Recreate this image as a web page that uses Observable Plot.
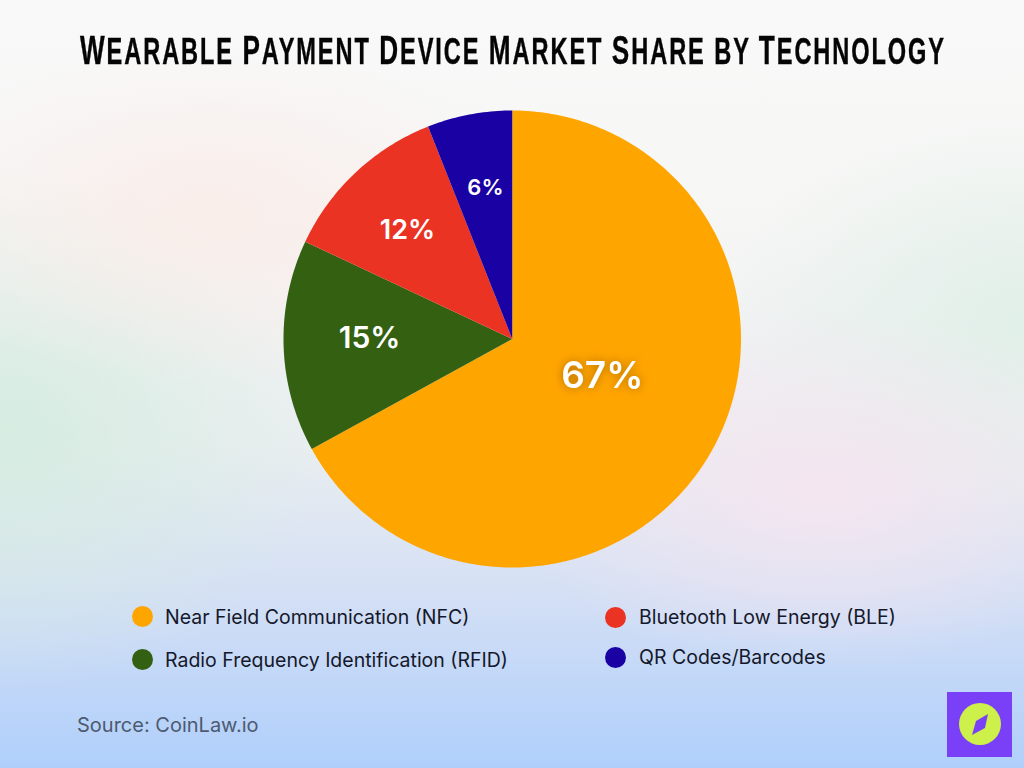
<!DOCTYPE html>
<html><head><meta charset="utf-8">
<script src="https://cdn.jsdelivr.net/npm/d3@7"></script>
<script src="https://cdn.jsdelivr.net/npm/@observablehq/plot@0.6"></script>
<style>
html,body{margin:0;padding:0;}
#page{position:relative;width:1024px;height:768px;overflow:hidden;
 background:
  radial-gradient(ellipse 320px 170px at 210px 215px, rgba(250,236,232,.9), rgba(250,236,232,0)),
  radial-gradient(ellipse 320px 180px at 820px 490px, rgba(245,229,240,.95), rgba(245,229,240,0)),
  radial-gradient(ellipse 330px 260px at 0px 430px, rgba(212,236,224,.95), rgba(212,236,224,0)),
  radial-gradient(ellipse 300px 210px at 1024px 320px, rgba(224,239,232,.95), rgba(224,239,232,0)),
  linear-gradient(180deg,#f9f9f9 0%,#f6f6f5 28%,#eaeef0 58%,#d3dff5 78%,#afcffb 100%);
 font-family:Inter,"Noto Sans",sans-serif;}
#titleText{position:absolute;left:80px;top:25px;transform-origin:left center;
 font-family:"Liberation Sans",sans-serif;font-weight:700;letter-spacing:3px;
 font-size:37px;line-height:50px;color:#050505;white-space:nowrap;-webkit-text-stroke:0.4px #050505;}
#titleText b{font-size:41px;font-weight:700;}
#chart{position:absolute;left:0;top:100px;}
.lg{position:absolute;font-size:19.5px;line-height:24px;color:#14182a;white-space:nowrap;}
.sw{position:absolute;width:21px;height:21px;border-radius:50%;}
#source{position:absolute;left:77px;top:713px;font-size:20px;line-height:24px;color:#4d5a70;}
#logo{position:absolute;left:947px;top:692px;}
</style></head>
<body>
<div id="page">
 <div id="titleText"></div>
 <div id="chart"></div>
 <div id="legend"></div>
 <div id="source">Source: CoinLaw.io</div>
 <svg id="logo" width="65" height="65" viewBox="0 0 65 65">
  <rect width="65" height="65" fill="#7a40f8"/>
  <circle cx="33" cy="32" r="21" fill="#cdf04a"/>
  <path d="M41 22 L38 36 L25 43 L29 29 Z" fill="#7a40f8"/>
 </svg>
</div>
<script>
const titleWords = ["Wearable","Payment","Device","Market","Share","by","Technology"];
const categories = ["Near Field Communication (NFC)","Radio Frequency Identification (RFID)","Bluetooth Low Energy (BLE)","QR Codes/Barcodes"];
const shares = [67,15,12,6];
const colors = ["#ffa500","#336111","#ea3323","#1a01a3"];

// title: small caps made from real text, fitted to the reference width
const tt=document.getElementById("titleText");
titleWords.forEach((w,i)=>{
  const isSmall = w==="by";
  if(i) tt.append(" ");
  if(!isSmall){const b=document.createElement("b");b.textContent=w[0];tt.append(b);}
  tt.append((isSmall?w:w.slice(1)).toUpperCase());
});
tt.style.transform=`scaleX(${866/tt.getBoundingClientRect().width})`;

// slice outlines derived from the shares, drawn through the x/y scales
const total = d3.sum(shares);
const starts = d3.cumsum([0,...shares]);
const polar = (pct,r)=>{const a=pct/total*2*Math.PI;return {x:r*Math.sin(a),y:r*Math.cos(a)};};
const slices = categories.flatMap((name,i)=>{
  const pts=[{name,x:0,y:0}];
  const n=Math.max(2,Math.ceil(shares[i]*4));
  for(let k=0;k<=n;k++) pts.push({name,...polar(starts[i]+shares[i]*k/n,1)});
  return pts;
});
const labelAt = i => [{label:shares[i]+"%",...polar(starts[i]+shares[i]/2,0.65)}];
const lab = (i,fontSize,dx,dy,extra={}) => Plot.text(labelAt(i),{x:"x",y:"y",text:"label",fontSize,dx,dy,
  fill:"#fff",fontWeight:600,fontFamily:"Inter,'Noto Sans',sans-serif",...extra});

const plot = Plot.plot({
  width:1024,height:480,margin:0,
  style:{background:"transparent",overflow:"visible"},
  x:{domain:[-1,1],range:[283,740.5],axis:null},
  y:{domain:[-1,1],range:[467,10],axis:null},
  color:{domain:categories,range:colors},
  marks:[
    Plot.line(slices,{x:"x",y:"y",z:"name",fill:"name",stroke:"none",curve:"linear"}),
    lab(0,37,-38,-38,{imageFilter:"drop-shadow(0 0 5px rgba(120,70,0,.6))"}),
    lab(1,30,6,-5),
    lab(2,27,-3,0),
    lab(3,22,1,-5)
  ]
});
document.getElementById("chart").append(plot);

const lgPos = [[132,606],[132,649],[605,607],[605,647]];
const lgText = [[165,605],[165,648],[639,605],[639,645]];
const legend=document.getElementById("legend");
categories.forEach((c,i)=>{
  const s=document.createElement("div");s.className="sw";s.style.left=lgPos[i][0]+"px";s.style.top=lgPos[i][1]+"px";s.style.background=colors[i];
  const t=document.createElement("div");t.className="lg";t.textContent=c;t.style.left=lgText[i][0]+"px";t.style.top=lgText[i][1]+"px";
  legend.append(s,t);
});
</script>
</body></html>
